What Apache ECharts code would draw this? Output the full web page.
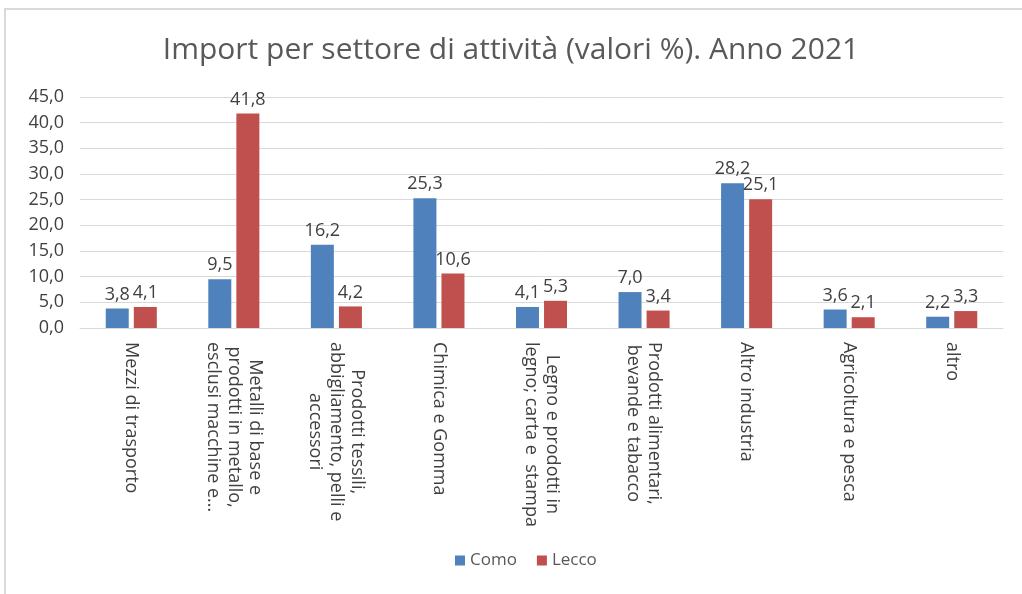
<!DOCTYPE html>
<html>
<head>
<meta charset="utf-8">
<script src="https://cdn.jsdelivr.net/npm/echarts@6/dist/echarts.min.js"></script>
<style>
  html, body { margin: 0; padding: 0; background: #fff; }
  #chart { width: 1022px; height: 594px; }
</style>
</head>
<body>
<div id="chart"></div>
<script>
// categories (line breaks as in the original chart)
const categories = [
  'Mezzi di trasporto',
  'Metalli di base e\nprodotti in metallo,\nesclusi macchine e...',
  'Prodotti tessili,\nabbigliamento, pelli e\naccessori',
  'Chimica e Gomma',
  'Legno e prodotti in\nlegno; carta e  stampa',
  'Prodotti alimentari,\nbevande e tabacco',
  'Altro industria',
  'Agricoltura e pesca',
  'altro'
];
const como = [3.8, 9.5, 16.2, 25.3, 4.1, 7.0, 28.2, 3.6, 2.2];
const lecco = [4.1, 41.8, 4.2, 10.6, 5.3, 3.4, 25.1, 2.1, 3.3];

const FONT = 'Open Sans';
const fmt = (v) => Number(v).toFixed(1).replace('.', ',');

const chart = echarts.init(document.getElementById('chart'));

chart.setOption({
  animation: false,
  textStyle: { fontFamily: FONT },
  color: ['#4F81BD', '#C0504D'],
  title: {
    text: 'Import per settore di attività (valori %). Anno 2021',
    left: 'center',
    top: 30,
    textStyle: { fontFamily: FONT, fontSize: 30, fontWeight: 'normal', color: '#595959' }
  },
  legend: {
    bottom: 20,
    left: 450,
    icon: 'rect',
    itemWidth: 10,
    itemHeight: 10,
    itemGap: 20,
    textStyle: { fontSize: 17, color: '#595959' },
    data: ['Como', 'Lecco']
  },
  graphic: [
    { type: 'line', shape: { x1: 4, y1: 9, x2: 1022, y2: 9 }, style: { stroke: '#d9d9d9', lineWidth: 2 } },
    { type: 'line', shape: { x1: 5, y1: 8, x2: 5, y2: 594 }, style: { stroke: '#d9d9d9', lineWidth: 2 } }
  ],
  grid: { left: 80, right: 19, top: 97, bottom: 266 },
  xAxis: {
    type: 'category',
    data: categories,
    axisLine: { lineStyle: { color: '#d9d9d9' } },
    axisTick: { show: false },
    axisLabel: {
      rotate: -90,
      interval: 0,
      margin: 14,
      fontSize: 18,
      lineHeight: 21,
      color: '#404040',
      formatter: (v) => v.split('\n').map((l) => '{c|' + l + '}').join('\n'),
      rich: { c: { align: 'center', fontSize: 18, lineHeight: 21, color: '#404040', fontFamily: FONT } }
    }
  },
  yAxis: {
    type: 'value',
    min: 0,
    max: 45,
    interval: 5,
    axisLine: { show: false },
    axisTick: { show: false },
    splitLine: { lineStyle: { color: '#d9d9d9' } },
    axisLabel: { fontSize: 18, color: '#404040', margin: 16, formatter: fmt }
  },
  series: [
    {
      name: 'Como',
      type: 'bar',
      data: como,
      barWidth: 23,
      barGap: '22%',
      label: { show: true, position: 'top', distance: 5, fontSize: 18, color: '#404040', formatter: (p) => fmt(p.value) }
    },
    {
      name: 'Lecco',
      type: 'bar',
      data: lecco,
      barWidth: 23,
      label: { show: true, position: 'top', distance: 5, fontSize: 18, color: '#404040', formatter: (p) => fmt(p.value) }
    }
  ]
});
</script>
</body>
</html>
